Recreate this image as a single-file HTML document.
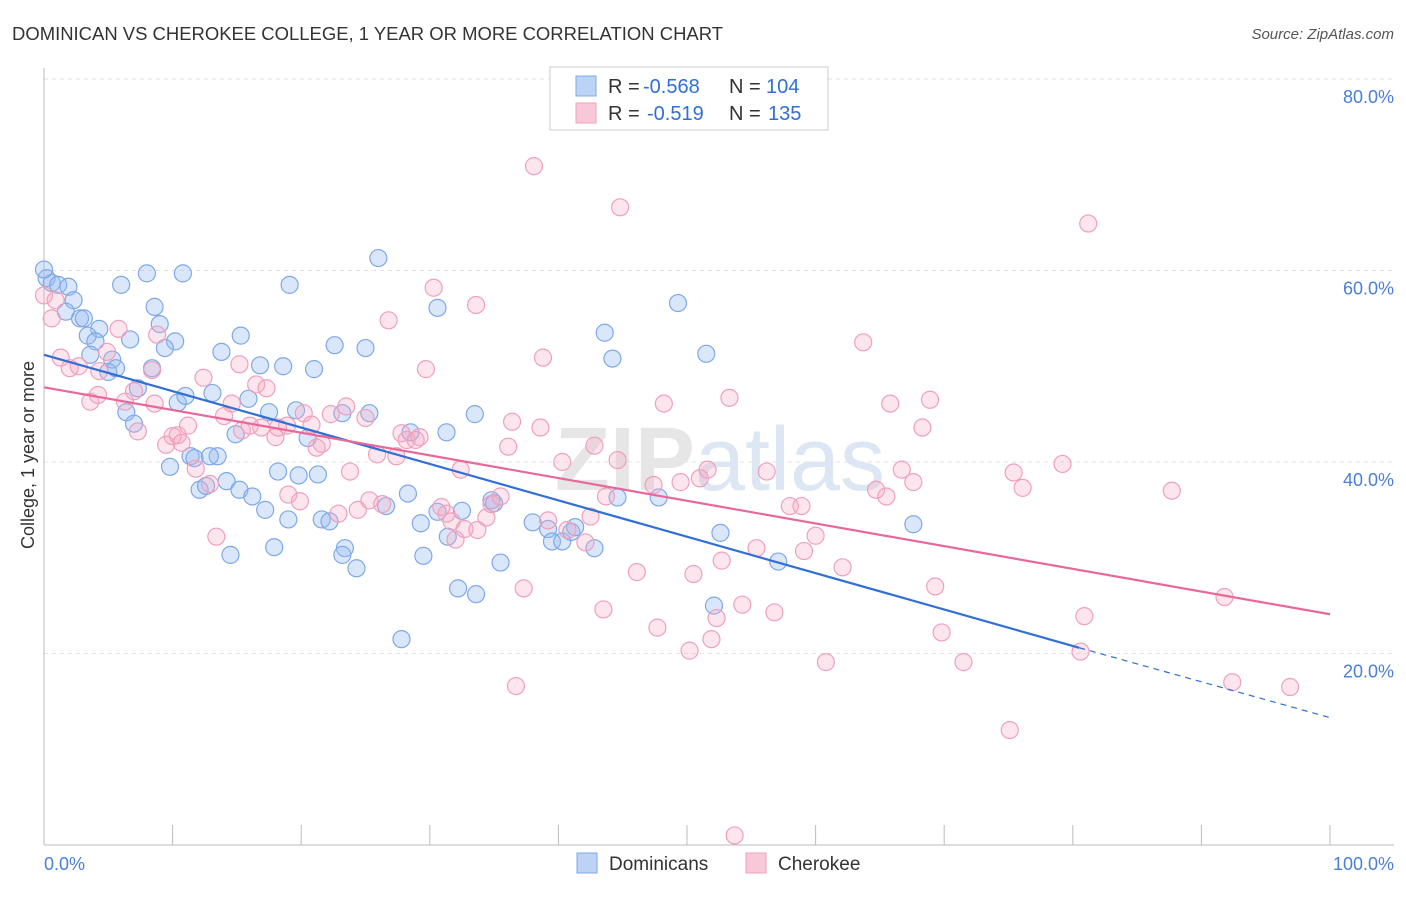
<!DOCTYPE html>
<html><head><meta charset="utf-8"><style>
body{margin:0;background:#fff;font-family:"Liberation Sans",sans-serif}
</style></head><body>
<svg width="1406" height="892" xmlns="http://www.w3.org/2000/svg" font-family="Liberation Sans, sans-serif">
<text x="12" y="40" font-size="18" fill="#333" textLength="711" lengthAdjust="spacingAndGlyphs">DOMINICAN VS CHEROKEE COLLEGE, 1 YEAR OR MORE CORRELATION CHART</text>
<text x="1394" y="39" font-size="15" fill="#555" font-style="italic" text-anchor="end">Source: ZipAtlas.com</text>
<g id="grid"></g>
<text x="720" y="490" font-size="90" fill="#e6e6e6" text-anchor="middle" font-weight="bold">ZIP<tspan fill="#dde6f3" font-weight="normal">atlas</tspan></text>
<g id="marks"></g>
<text transform="translate(34,455) rotate(-90)" font-size="18" fill="#333" text-anchor="middle">College, 1 year or more</text>
<text x="44" y="870" font-size="18" fill="#4a7fd6">0.0%</text>
<text x="1394" y="870" font-size="18" fill="#4a7fd6" text-anchor="end">100.0%</text>
<g>
<rect x="550" y="67" width="278" height="63" fill="#fff" stroke="#ccc"/>
<rect x="576" y="76" width="20" height="20" fill="#bcd3f5" stroke="#7fa8e8"/>
<rect x="576" y="103" width="20" height="20" fill="#f9c8d8" stroke="#f0a0bc"/>
<text x="608" y="93" font-size="20" fill="#333">R =</text>
<text x="643" y="93" font-size="20" fill="#2f6fd6">-0.568</text>
<text x="729" y="93" font-size="20" fill="#333">N =</text>
<text x="766" y="93" font-size="20" fill="#2f6fd6">104</text>
<text x="608" y="120" font-size="20" fill="#333">R =</text>
<text x="647" y="120" font-size="20" fill="#2f6fd6">-0.519</text>
<text x="729" y="120" font-size="20" fill="#333">N =</text>
<text x="768" y="120" font-size="20" fill="#2f6fd6">135</text>
</g>
<g>
<rect x="577" y="853" width="20" height="20" fill="#bcd3f5" stroke="#7fa8e8"/>
<text x="609" y="870" font-size="19" fill="#333">Dominicans</text>
<rect x="746" y="853" width="20" height="20" fill="#f9c8d8" stroke="#f0a0bc"/>
<text x="778" y="870" font-size="19" fill="#333">Cherokee</text>
</g>
</svg>
<script>
const yTicks=[20,40,60,80];
const yTickLabels=["20.0%","40.0%","60.0%","80.0%"];
const xTicks=[0,10,20,30,40,50,60,70,80,90,100];
const blueX=[0.2,0.6,1.1,1.9,2.3,1.7,2.8,3.1,4.3,3.4,4.0,3.6,6.7,6.0,8.0,10.8,8.6,9.0,10.2,9.4,5.3,5.0,8.4,5.6,7.3,6.4,7.0,10.4,11.0,13.1,15.3,13.8,16.8,18.6,21.0,22.6,25.0,26.0,19.1,30.6,15.9,17.5,19.6,14.9,13.5,11.4,11.7,12.9,9.8,12.1,12.6,14.2,15.2,16.2,17.2,18.2,19.8,21.3,20.5,23.2,25.3,28.5,31.3,33.5,19.0,21.6,22.2,17.9,14.5,23.4,23.2,24.3,26.6,28.3,29.3,30.6,32.5,31.4,34.8,35.0,38.0,39.2,39.5,40.3,41.0,41.3,42.8,35.5,29.5,33.6,32.2,27.8,43.6,44.2,49.3,51.5,44.6,47.8,52.6,57.1,52.1,67.6,0];
const blueY=[59.2,58.7,58.5,58.3,56.9,55.7,55.0,55.0,53.9,53.2,52.6,51.2,52.8,58.5,59.7,59.7,56.2,54.4,52.6,51.9,50.7,49.4,49.8,49.8,47.7,45.2,44.0,46.2,46.9,47.2,53.2,51.5,50.1,50.0,49.7,52.2,51.9,61.3,58.5,56.1,46.6,45.2,45.4,42.9,40.6,40.6,40.4,40.6,39.5,37.1,37.5,38.0,37.1,36.4,35.0,39.0,38.6,38.7,42.5,45.1,45.1,43.1,43.1,45.0,34.0,34.0,33.8,31.1,30.3,31.0,30.3,28.9,35.4,36.7,33.6,34.8,34.9,32.2,36.0,35.7,33.7,33.0,31.7,31.7,32.7,33.2,31.0,29.5,30.2,26.2,26.8,21.5,53.5,50.8,56.6,51.3,36.3,36.3,32.6,29.6,25.0,33.5,60.1];
const pinkX=[0,0.6,0.9,1.3,2.0,2.7,3.6,4.2,4.3,4.9,5.8,6.3,7.0,7.3,8.4,8.6,8.8,9.5,10.0,10.4,10.7,11.2,12.4,11.8,12.9,13.4,14.0,14.6,15.2,15.4,16.0,16.5,16.9,17.3,18.0,18.2,18.9,19.0,19.9,20.2,20.8,21.2,21.6,22.3,23.5,22.9,23.8,24.4,25.0,25.3,25.9,26.3,26.8,27.4,27.8,28.2,28.9,29.2,29.7,30.3,30.9,31.3,31.7,32.0,32.4,32.7,33.6,33.7,34.4,34.8,35.5,36.1,36.4,36.7,37.3,38.1,38.6,38.8,39.2,40.3,40.7,42.1,42.5,42.8,43.7,44.6,44.8,43.5,46.1,47.4,47.7,48.2,50.2,49.5,50.5,51.0,51.6,51.9,52.3,52.7,53.3,54.3,55.4,56.2,56.8,58.0,58.9,59.1,60.0,60.8,62.1,63.7,64.7,65.5,65.8,66.7,67.6,68.3,68.9,69.3,69.8,71.5,75.1,75.4,76.1,79.2,80.6,80.9,81.2,87.7,91.8,92.4,96.9,53.7];
const pinkY=[57.4,55.0,56.9,50.9,49.8,50.0,46.3,47.0,49.5,51.5,53.9,46.3,47.4,43.2,49.6,46.1,53.3,41.8,42.7,42.8,42.0,43.8,48.8,39.3,37.7,32.2,44.8,46.1,50.2,43.3,43.8,48.1,43.6,47.7,42.6,43.6,43.8,36.6,35.9,45.1,43.9,41.5,41.9,45.0,45.8,34.6,39.0,35.0,44.6,36.0,40.8,35.6,54.8,40.6,43.0,42.3,42.3,42.6,49.7,58.2,35.3,34.6,33.8,31.9,39.2,33.0,56.4,32.9,34.2,35.6,36.4,41.6,44.2,16.6,26.8,70.9,43.6,50.9,33.9,40.0,32.9,31.6,34.3,41.7,36.4,40.2,66.6,24.6,28.5,37.6,22.7,46.1,20.3,37.9,28.3,38.3,39.2,21.5,23.7,29.7,46.7,25.1,31.0,39.0,24.3,35.4,35.4,30.7,32.3,19.1,29.0,52.5,37.1,36.4,46.1,39.2,37.9,43.6,46.5,27.0,22.2,19.1,12.0,38.9,37.3,39.8,20.2,23.9,64.9,37.0,25.9,17.0,16.5,1.0];
const blueTrend=[51.2,20.6,13.3];
const blueTrendX=[0,80.5,100];
const pinkTrend=[47.8,24.1];
const pinkTrendX=[0,100];

const NS="http://www.w3.org/2000/svg";
const X=v=>44+v*12.86;
const Y=v=>845-v*9.575;
function mk(tag,attrs,parent){const e=document.createElementNS(NS,tag);for(const k in attrs)e.setAttribute(k,attrs[k]);parent.appendChild(e);return e;}
const grid=document.getElementById('grid');
const marks=document.getElementById('marks');
yTicks.forEach((t,i)=>{
  const l=mk('line',{x1:44,x2:1394,y1:Y(t),y2:Y(t),stroke:'#e2e2e2','stroke-dasharray':'4,4'},grid);
  
  
  const tx=mk('text',{x:1394,y:Y(t)+24,'font-size':18,fill:'#4a7fd6','text-anchor':'end'},grid);
  tx.textContent=yTickLabels[i];
  
  
});
const ax=mk('line',{x1:44,x2:1394,y1:845,y2:845,stroke:'#bbb'},grid);


const ay=mk('line',{x1:44,x2:44,y1:68,y2:845,stroke:'#bbb'},grid);


xTicks.forEach(t=>{
  const l=mk('line',{x1:X(t),x2:X(t),y1:825,y2:845,stroke:'#bbb'},grid);
  
  
});
blueX.forEach((v,i)=>{
  const c=mk('circle',{cx:X(v),cy:Y(blueY[i]),r:8.5,fill:'rgba(150,185,240,0.35)',stroke:'#7fa8e8','stroke-width':1.2},marks);
  
  
});
pinkX.forEach((v,i)=>{
  const c=mk('circle',{cx:X(v),cy:Y(pinkY[i]),r:8.5,fill:'rgba(245,170,195,0.3)',stroke:'#f0a0bc','stroke-width':1.2},marks);
  
  
});
const bl=mk('line',{x1:X(blueTrendX[0]),y1:Y(blueTrend[0]),x2:X(blueTrendX[1]),y2:Y(blueTrend[1]),stroke:'#2f6fd6','stroke-width':2.2},marks);


const bd=mk('line',{x1:X(blueTrendX[1]),y1:Y(blueTrend[1]),x2:X(blueTrendX[2]),y2:Y(blueTrend[2]),stroke:'#2f6fd6','stroke-width':1.2,'stroke-dasharray':'6,5'},marks);


const pl=mk('line',{x1:X(pinkTrendX[0]),y1:Y(pinkTrend[0]),x2:X(pinkTrendX[1]),y2:Y(pinkTrend[1]),stroke:'#e8689a','stroke-width':2.2},marks);


</script>
</body></html>
